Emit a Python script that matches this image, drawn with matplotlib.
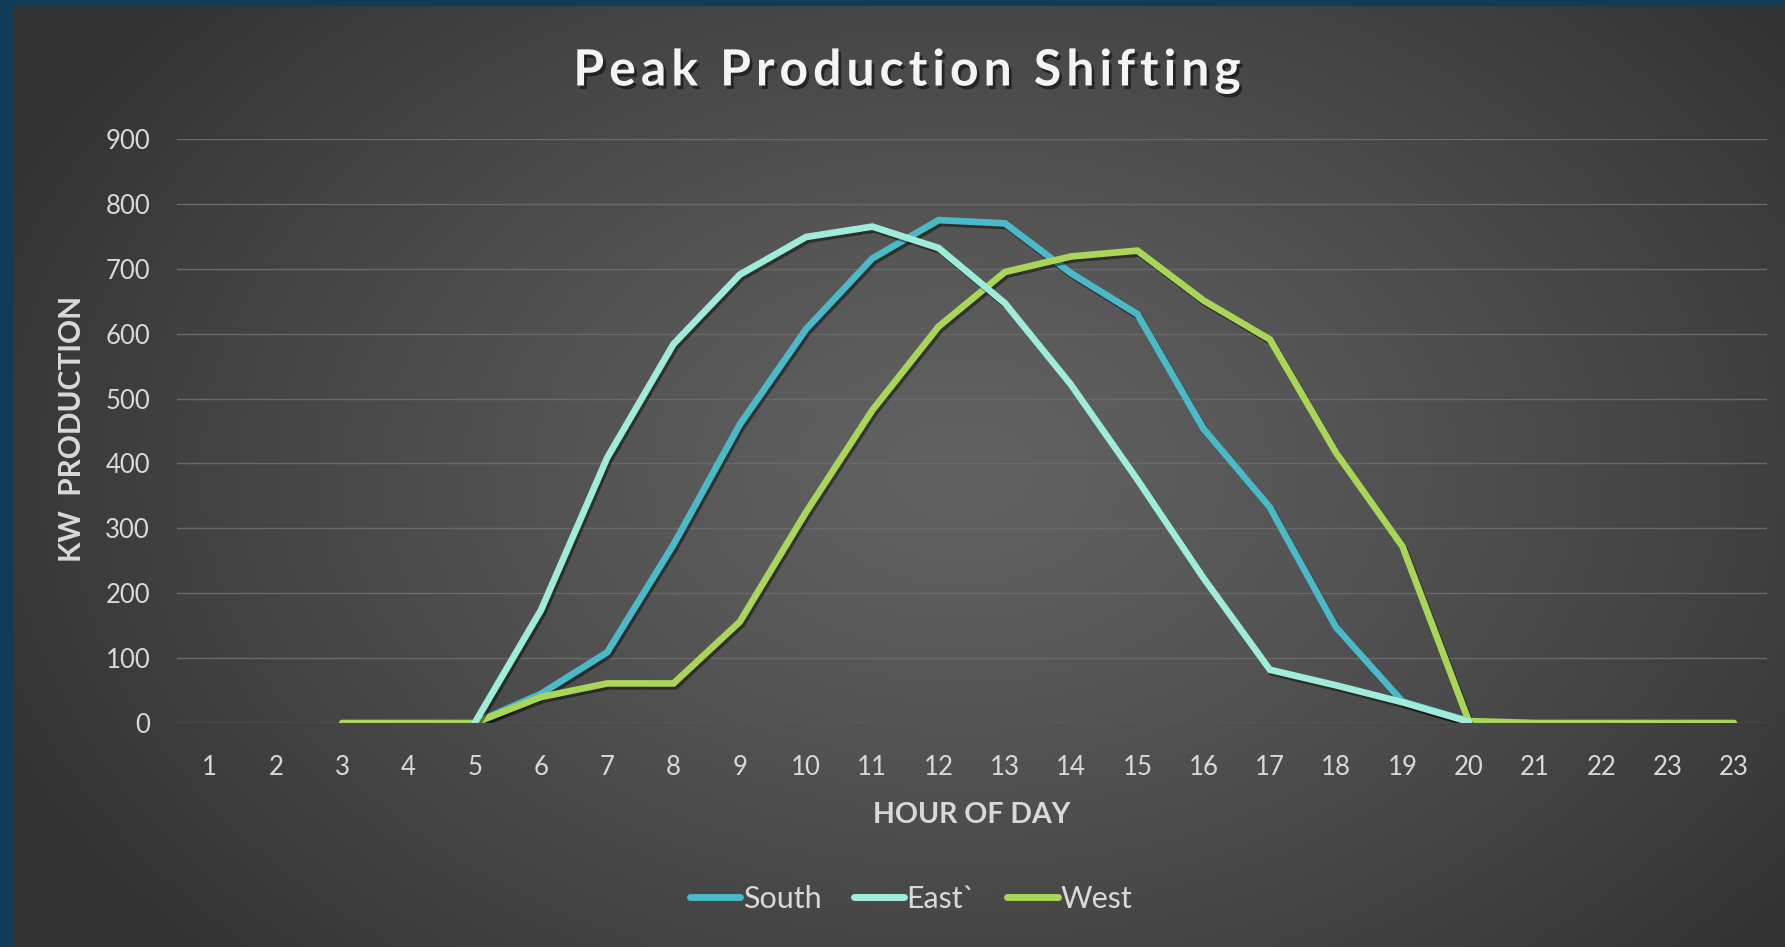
import numpy as np
import matplotlib
matplotlib.use("Agg")
import matplotlib.pyplot as plt
import matplotlib.patheffects as pe

plt.rcParams['font.family'] = ['Lato', 'DejaVu Sans']

# Hour-of-day categories as labelled on the axis
hours = ["1", "2", "3", "4", "5", "6", "7", "8", "9", "10", "11", "12",
         "13", "14", "15", "16", "17", "18", "19", "20", "21", "22", "23", "23"]

nan = np.nan
south = [nan, nan, nan, nan, 0, 45, 109, 275, 460, 607, 716, 775,
         770, 693, 630, 453, 332, 147, 33, 3, nan, nan, nan, nan]
east = [nan, nan, nan, nan, 0, 174, 409, 584, 691, 749, 765, 732,
        647, 521, 375, 223, 82, 58, 32, 2, nan, nan, nan, nan]
west = [nan, nan, 0, 0, 0, 40, 61, 61, 156, 325, 482, 611,
        695, 719, 728, 651, 591, 416, 272, 3, 0, 0, 0, 0]

series_names = ["South", "East`", "West"]
series_values = [south, east, west]
series_colors = ["#4bbac8", "#a0ecdc", "#a9d558"]
series_z = [3, 5, 4]

title_text = "Peak Production Shifting"

W, H = 1785, 947
fig = plt.figure(figsize=(W / 100, H / 100), dpi=100)

# Slide background: blue frame with a dark radial gradient panel
bg = fig.add_axes([0, 0, 1, 1], zorder=-10)
yy, xx = np.mgrid[0:H, 0:W]
d = np.sqrt(((xx - 960) / 1050.0) ** 2 + ((yy - 470) / 720.0) ** 2)
d = np.clip(d, 0, 1) ** 1.2
inner = np.array([0x62, 0x62, 0x62]) / 255.0
outer = np.array([0x33, 0x33, 0x33]) / 255.0
img = inner[None, None, :] + (outer - inner)[None, None, :] * d[..., None]
frame = np.array([0x10, 0x3c, 0x58]) / 255.0
img[:, :13, :] = frame
img[:6, :, :] = frame
bg.imshow(img, aspect="auto", interpolation="bilinear")
bg.set_axis_off()

ax = fig.add_axes([176.5 / W, 1 - 723 / H, (1767 - 176.5) / W, (723 - 139) / H])
ax.set_facecolor("none")
x = np.arange(len(hours))

shadow = [pe.SimpleLineShadow(offset=(1.5, -2.0), shadow_color="black", alpha=0.45, rho=1.0),
          pe.Normal()]
for name, vals, col, z in zip(series_names, series_values, series_colors, series_z):
    ax.plot(x, vals, color=col, lw=4.8, label=name, zorder=z,
            solid_capstyle="round", solid_joinstyle="miter",
            path_effects=shadow)

ax.set_xlim(-0.5, len(hours) - 0.5)
ax.set_ylim(0, 900)
ax.set_yticks(np.arange(0, 901, 100))
ax.set_xticks(x)
ax.set_xticklabels(hours)
ax.grid(axis="y", color="#6a6a6a", lw=1.0, zorder=0)
ax.set_axisbelow(True)
for s in ax.spines.values():
    s.set_visible(False)
ax.tick_params(axis="both", length=0, colors="#d9d9d9", labelsize=18.5)
ax.tick_params(axis="x", pad=23)
ax.tick_params(axis="y", pad=19)

ax.set_xlabel("HOUR OF DAY", fontsize=20.5, fontweight="bold", color="#d9d9d9", labelpad=16)
fig.text(72 / W, 1 - 429 / H, "KW  PRODUCTION", rotation=90, fontsize=21.5,
         fontweight="bold", color="#d9d9d9", ha="center", va="center")

# Letter-spaced chart title with a soft drop shadow
renderer = fig.canvas.get_renderer()
title_kw = dict(fontsize=36, fontweight="bold", color="#f4f4f4", va="center", ha="left",
                path_effects=[pe.withSimplePatchShadow(offset=(2, -2.5), shadow_rgbFace="black",
                                                       alpha=0.5)])
extra = 5.0
probe = fig.text(0, 0, title_text, **title_kw)
base_w = probe.get_window_extent(renderer).width
probe.remove()
total_w = base_w + extra * (len(title_text) - 1)
x0 = 907 - total_w / 2
for i, ch in enumerate(title_text):
    if i:
        p = fig.text(0, 0, title_text[:i], **title_kw)
        off = p.get_window_extent(renderer).width
        p.remove()
    else:
        off = 0.0
    if ch != " ":
        fig.text((x0 + off + extra * i) / W, 1 - 71 / H, ch, **title_kw)

leg = fig.legend(loc="center", bbox_to_anchor=(911 / W, 1 - 899 / H), ncol=3, frameon=False,
                 fontsize=22, handlelength=1.65, handletextpad=0.08, columnspacing=1.05,
                 labelcolor="#d9d9d9")
for ln in leg.get_lines():
    ln.set_linewidth(5)
    ln.set_solid_capstyle("round")
    ln.set_path_effects([])

fig.savefig("out.png", dpi=100)
